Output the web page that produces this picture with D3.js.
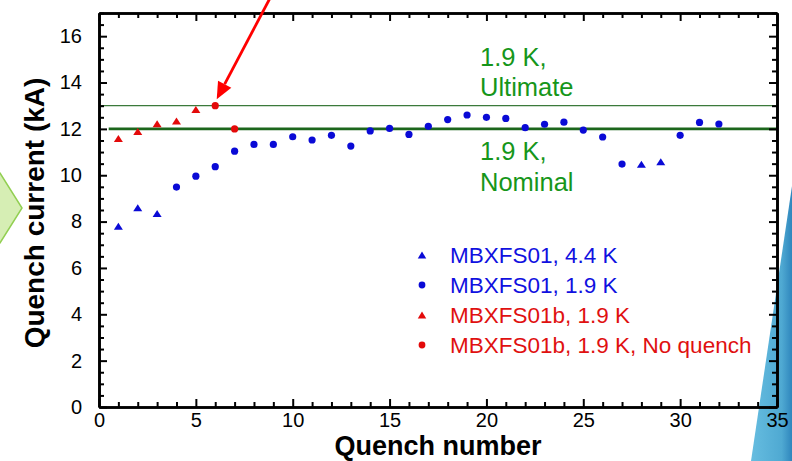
<!DOCTYPE html>
<html><head><meta charset="utf-8">
<script src="https://cdn.jsdelivr.net/npm/d3@7"></script>
<style>
html,body{margin:0;padding:0;background:#fff;}
svg{display:block;font-family:Arial,"Liberation Sans",sans-serif;}
</style></head>
<body>
<svg id="chart" width="792" height="461"></svg>
<script>
// ---- data ----
const blueTriX = [1, 2, 3, 28, 29];
const blueTriY = [7.8, 8.6, 8.35, 10.47, 10.58];
const blueCircX = [4,5,6,7,8,9,10,11,12,13,14,15,16,17,18,19,20,21,22,23,24,25,26,27,30,31,32];
const blueCircY = [9.49,9.96,10.37,11.04,11.33,11.33,11.66,11.52,11.72,11.26,11.91,12.02,11.76,12.11,12.40,12.60,12.50,12.45,12.05,12.20,12.29,11.95,11.65,10.48,11.72,12.28,12.21];
const redTriX = [1, 2, 3, 4, 5];
const redTriY = [11.58, 11.89, 12.22, 12.34, 12.84];
const redCircX = [6, 7];
const redCircY = [13.0, 12.0];
const ultimateLevel = 13;
const nominalLevel = 12;
const xTicks = [0, 5, 10, 15, 20, 25, 30, 35];
const yTicks = [0, 2, 4, 6, 8, 10, 12, 14, 16];
const legendLabels = ["MBXFS01, 4.4 K", "MBXFS01, 1.9 K", "MBXFS01b, 1.9 K", "MBXFS01b, 1.9 K, No quench"];
const xTitle = "Quench number";
const yTitle = "Quench current (kA)";

const BLUE = "#0a0ad6", RED = "#e30a0a", GREEN_TXT = "#16961a";

const svg = d3.select("#chart");
const W = 792, H = 461;
const m = {left: 99, top: 13, right: 15, bottom: 54};
const x = d3.scaleLinear().domain([0, 35]).range([m.left, W - m.right]);
const y = d3.scaleLinear().domain([0, 17]).range([H - m.bottom, m.top]);

// ---- slide decorations ----
const defs = svg.append("defs");
const g1 = defs.append("linearGradient").attr("id","rib").attr("x1","0").attr("x2","1").attr("y1","0").attr("y2","0");
g1.append("stop").attr("offset","0").attr("stop-color","#66bde0");
g1.append("stop").attr("offset","0.75").attr("stop-color","#4fa9d2");
g1.append("stop").attr("offset","1").attr("stop-color","#2f86bd");
svg.append("path").attr("d","M751,461 L792,186 L792,461 Z").attr("fill","url(#rib)");
svg.append("path").attr("d","M-30,173 L0,173 L22,208 L0,243 L-30,243 Z")
  .attr("fill","#d6eeb4").attr("stroke","#92cf52").attr("stroke-width",1.5);

// ---- reference lines ----
svg.append("line").attr("x1", x(0)).attr("x2", x(35)).attr("y1", y(ultimateLevel)).attr("y2", y(ultimateLevel))
  .attr("stroke","#3b7a3b").attr("stroke-width",1.3);
svg.append("line").attr("x1", x(0.5)).attr("x2", x(35)).attr("y1", y(nominalLevel)).attr("y2", y(nominalLevel))
  .attr("stroke","#1c661c").attr("stroke-width",2.6);

// annotation text
const ann = svg.append("g").attr("fill", GREEN_TXT).attr("font-size", 25.5);
ann.append("text").attr("x", 480).attr("y", y(ultimateLevel) - 40).text("1.9 K,");
ann.append("text").attr("x", 480).attr("y", y(ultimateLevel) - 9.5).text("Ultimate");
ann.append("text").attr("x", 480).attr("y", y(nominalLevel) + 31.5).text("1.9 K,");
ann.append("text").attr("x", 480).attr("y", y(nominalLevel) + 62.5).text("Nominal");

// ---- axes ----
function styleAxis(g){
  g.selectAll(".domain").attr("stroke","#000").attr("stroke-width",2.6);
  g.selectAll(".tick line").attr("stroke","#000").attr("stroke-width",2);
  g.selectAll("text").attr("fill","#000").attr("font-size",20).attr("font-family",'Arial,"Liberation Sans",sans-serif');
}
const xMinor = d3.range(0, 36, 1).filter(v => v % 5 !== 0);
const yMinor = d3.range(0, 17.01, 0.5).filter(v => v % 2 !== 0);

// bottom
svg.append("g").attr("transform",`translate(0,${y(0)})`)
  .call(d3.axisBottom(x).tickValues(xMinor).tickSize(-5).tickSizeOuter(0).tickFormat("")).call(styleAxis);
svg.append("g").attr("transform",`translate(0,${y(0)})`)
  .call(d3.axisBottom(x).tickValues(xTicks).tickSize(-8).tickSizeOuter(0).tickPadding(5.8).tickFormat(d3.format("d"))).call(styleAxis);
// top
svg.append("g").attr("transform",`translate(0,${y(17)})`)
  .call(d3.axisTop(x).tickValues(xMinor).tickSize(-5).tickSizeOuter(0).tickFormat("")).call(styleAxis);
svg.append("g").attr("transform",`translate(0,${y(17)})`)
  .call(d3.axisTop(x).tickValues(xTicks).tickSize(-8).tickSizeOuter(0).tickFormat("")).call(styleAxis);
// left
svg.append("g").attr("transform",`translate(${x(0)},0)`)
  .call(d3.axisLeft(y).tickValues(yMinor).tickSize(-5).tickSizeOuter(0).tickFormat("")).call(styleAxis);
svg.append("g").attr("transform",`translate(${x(0)},0)`)
  .call(d3.axisLeft(y).tickValues(yTicks).tickSize(-8).tickSizeOuter(0).tickPadding(17).tickFormat(d3.format("d"))).call(styleAxis);
// right
svg.append("g").attr("transform",`translate(${x(35)},0)`)
  .call(d3.axisRight(y).tickValues(yMinor).tickSize(-5).tickSizeOuter(0).tickFormat("")).call(styleAxis);
svg.append("g").attr("transform",`translate(${x(35)},0)`)
  .call(d3.axisRight(y).tickValues(yTicks).tickSize(-8).tickSizeOuter(0).tickFormat("")).call(styleAxis);

// titles
svg.append("text").attr("x", (x(0)+x(35))/2).attr("y", 455.3).attr("text-anchor","middle")
  .attr("font-size",27).attr("font-weight","bold").attr("fill","#000").text(xTitle);
svg.append("text").attr("transform",`translate(44,${(y(0)+y(17))/2+3}) rotate(-90)`).attr("text-anchor","middle")
  .attr("font-size",28).attr("font-weight","bold").attr("fill","#000").text(yTitle);

// ---- markers ----
function triPath(cx, cy, w, h){
  return `M${cx},${cy-h/2} L${cx+w/2},${cy+h/2} L${cx-w/2},${cy+h/2} Z`;
}
const marks = svg.append("g");
marks.selectAll(".bt").data(blueTriX.map((v,i)=>[v, blueTriY[i]])).join("path")
  .attr("d", d => triPath(x(d[0]), y(d[1]), 9, 7)).attr("fill", BLUE);
marks.selectAll(".bc").data(blueCircX.map((v,i)=>[v, blueCircY[i]])).join("circle")
  .attr("cx", d => x(d[0])).attr("cy", d => y(d[1])).attr("r", 3.6).attr("fill", BLUE);
marks.selectAll(".rt").data(redTriX.map((v,i)=>[v, redTriY[i]])).join("path")
  .attr("d", d => triPath(x(d[0]), y(d[1]), 9, 7)).attr("fill", RED);
marks.selectAll(".rc").data(redCircX.map((v,i)=>[v, redCircY[i]])).join("circle")
  .attr("cx", d => x(d[0])).attr("cy", d => y(d[1])).attr("r", 3.6).attr("fill", RED);

// ---- red arrow annotation ----
const tip = [x(redCircX[0]) + 1.5, y(redCircY[0]) - 6.5];
const tail = [tip[0] + 58, tip[1] - 110];
const ang = Math.atan2(tip[1]-tail[1], tip[0]-tail[0]);
const hl = 17, hw = 7.5;
const bx = tip[0] - hl*Math.cos(ang), by = tip[1] - hl*Math.sin(ang);
svg.append("line").attr("x1", tail[0]).attr("y1", tail[1]).attr("x2", bx).attr("y2", by)
  .attr("stroke","#ff0000").attr("stroke-width",2.8);
svg.append("path").attr("d",
  `M${tip[0]},${tip[1]} L${bx - hw*Math.sin(ang)},${by + hw*Math.cos(ang)} L${bx + hw*Math.sin(ang)},${by - hw*Math.cos(ang)} Z`)
  .attr("fill","#ff0000");

// ---- legend ----
const legColors = [BLUE, BLUE, RED, RED];
const legShapes = ["tri","circ","tri","circ"];
const leg = svg.append("g");
legendLabels.forEach((lab, i) => {
  const cy = 255 + i * 30;
  if (legShapes[i] === "tri") {
    leg.append("path").attr("d", triPath(422, cy, 8.5, 6.8)).attr("fill", legColors[i]);
  } else {
    leg.append("circle").attr("cx", 422).attr("cy", cy).attr("r", 3.4).attr("fill", legColors[i]);
  }
  leg.append("text").attr("x", 450).attr("y", cy + 7.8).attr("font-size", 22.5)
    .attr("fill", i < 2 ? "#1010e0" : "#e01010").text(lab);
});
</script>
</body></html>
